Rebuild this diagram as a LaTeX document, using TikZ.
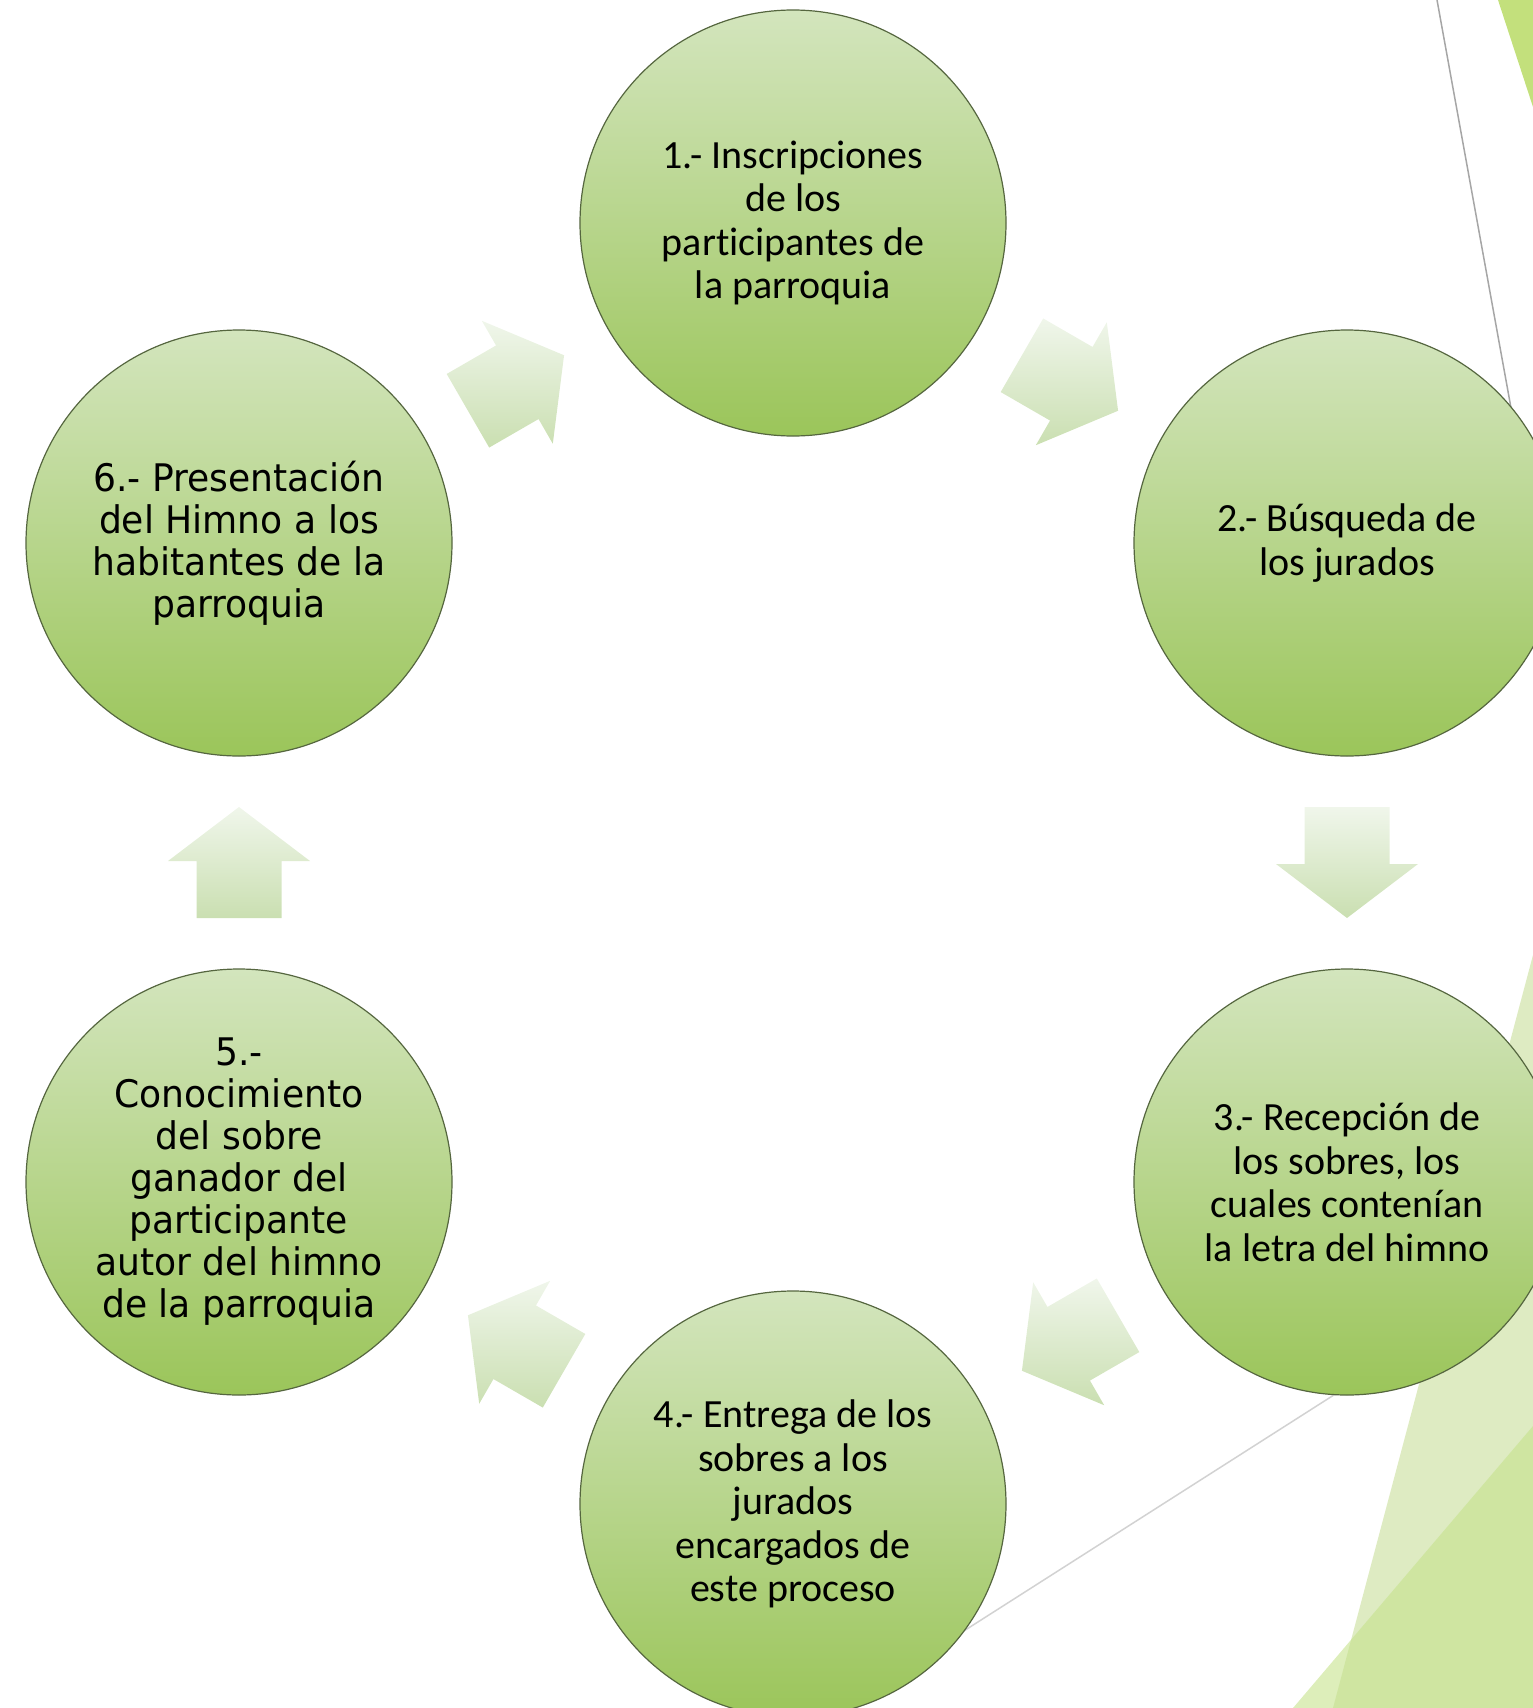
\documentclass[tikz,border=0pt]{standalone}
\usepackage{fontspec}
\setmainfont{Carlito}[Ligatures=NoCommon]
\newfontfamily\tahomafont[FakeStretch=0.95]{DejaVu Sans}
\usetikzlibrary{calc}

\definecolor{circtop}{HTML}{D3E5BD}
\definecolor{circbottom}{HTML}{9BC55A}
\definecolor{circborder}{HTML}{55663F}
\definecolor{arrowtop}{HTML}{F0F6EB}
\definecolor{arrowbottom}{HTML}{CADFB1}
\definecolor{facetlime}{HTML}{C3E07C}
\definecolor{facetpale}{HTML}{DEEBC2}
\definecolor{facetgreen}{HTML}{C6E28C}

\begin{document}
\begin{tikzpicture}[x=1pt, y=-1pt]
            \useasboundingbox (0,0) rectangle (1533,1708);
            \clip (0,0) rectangle (1533,1708);

            % background facets on the right
            \fill[facetlime] (1498,0) -- (1533,0) -- (1533,107) -- cycle;
            \fill[facetpale] (1533,955) -- (1333,1708) -- (1533,1708) -- cycle;
            \fill[facetgreen, opacity=0.6] (1533,1426) -- (1293,1708) -- (1533,1708) -- cycle;
            \draw[gray!70, line width=1.5pt] (1437,0) -- (1515,430);
            \draw[gray!35, line width=1.5pt] (1533,1268) -- (843,1708);

            {
                \tikzset{every node/.style = {shape=circle, draw=circborder, line width=1.2pt,
                    top color=circtop, bottom color=circbottom, minimum size=426pt,
                    inner sep=0pt, align=center, font=\fontsize{40}{43.5}\selectfont}}

                \node (insc) at (793, 223) {1.- Inscripciones\\de los\\participantes de\\la parroquia};
                \node (busq) at (1347, 543) {2.- Búsqueda de\\los jurados};
                \node (recep) at (1347, 1182) {3.- Recepción de\\los sobres, los\\cuales contenían\\la letra del himno};
                \node (entr) at (793, 1504) {4.- Entrega de los\\sobres a los\\jurados\\encargados de\\este proceso};
                \node[font=\tahomafont\fontsize{38}{42}\selectfont] (conoc) at (239, 1182) {5.-\\Conocimiento\\del sobre\\ganador del\\participante\\autor del himno\\de la parroquia};
                \node[font=\tahomafont\fontsize{38}{42}\selectfont] (pres) at (239, 543) {6.- Presentación\\del Himno a los\\habitantes de la\\parroquia};
            }

            % block arrow half way between two steps
            \tikzset{blockarrow/.style = {top color=arrowtop, bottom color=arrowbottom, draw=none}}
            \tikzset{cyclearrow/.pic = {
                \shade[blockarrow] (-55.5,-42.5) -- (1.5,-42.5) -- (1.5,-71) -- (55.5,0)
                    -- (1.5,71) -- (1.5,42.5) -- (-55.5,42.5) -- cycle;}}

            \pic[rotate=30] at ($(pres)!0.5!(insc)$) {cyclearrow};
            \pic[rotate=-30] at ($(insc)!0.5!(busq)$) {cyclearrow};
            \pic[rotate=-90] at ($(busq)!0.5!(recep)$) {cyclearrow};
            \pic[rotate=-150] at ($(recep)!0.5!(entr)$) {cyclearrow};
            \pic[rotate=150] at ($(entr)!0.5!(conoc)$) {cyclearrow};
            \pic[rotate=90] at ($(conoc)!0.5!(pres)$) {cyclearrow};

        \end{tikzpicture}
\end{document}
